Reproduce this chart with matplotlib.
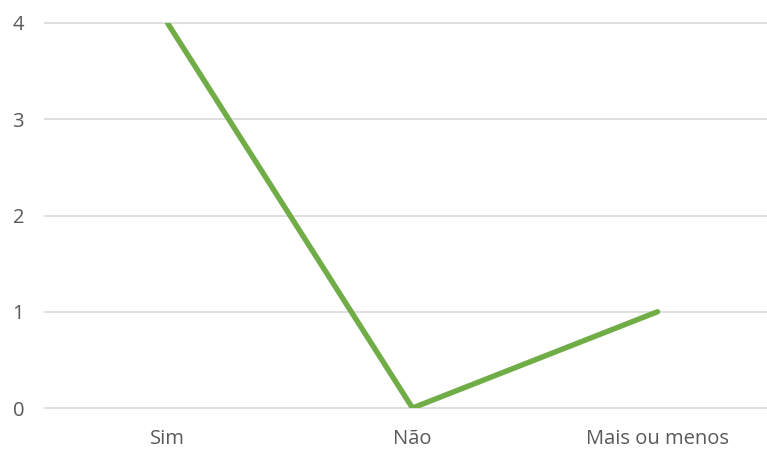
import matplotlib.pyplot as plt

# dados
categorias = ['Sim', 'Não', 'Mais ou menos']
valores = [4, 0, 1]
yticks = [0, 1, 2, 3, 4]

fig = plt.figure(figsize=(7.67, 4.5), dpi=100)
# a área do gráfico continua além da borda direita (como no original)
ax = fig.add_axes([45 / 767, 1 - 408 / 450, 735 / 767, 385 / 450])

x = range(len(categorias))
ax.plot(x, valores, color='#70AD47', linewidth=3.9, solid_capstyle='round',
        solid_joinstyle='round', zorder=3)

ax.set_xlim(-0.5, len(categorias) - 0.5)
ax.set_ylim(0, 4)
ax.set_yticks(yticks)
ax.set_xticks(list(x))
ax.set_xticklabels(categorias)

ax.grid(axis='y', color='#D9D9D9', linewidth=1.2)
for gl in ax.get_ygridlines():
    gl.set_clip_on(False)
ax.set_axisbelow(True)
for s in ax.spines.values():
    s.set_visible(False)
ax.tick_params(length=0, labelcolor='#595959', labelsize=14.5)
ax.tick_params(axis='x', pad=15)
ax.tick_params(axis='y', pad=15)
for lbl in ax.get_xticklabels() + ax.get_yticklabels():
    lbl.set_fontfamily('Open Sans')

fig.savefig('out.png', dpi=100)
